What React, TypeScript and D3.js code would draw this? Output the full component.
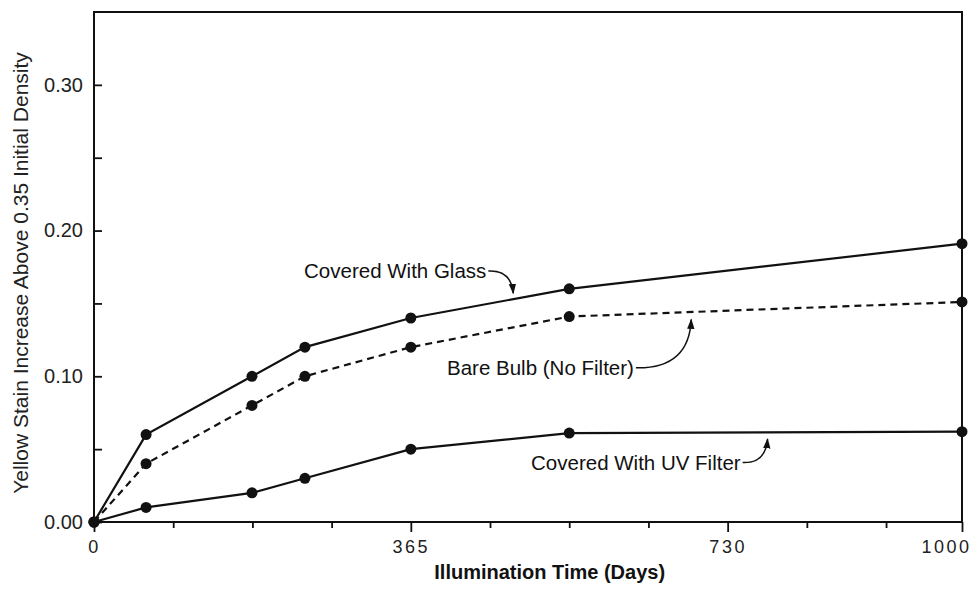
import * as d3 from "d3";
import { useEffect, useRef } from "react";

// illumination time in days for each measurement
const days = [0, 60, 182, 243, 365, 547.5, 1000];

const glassValues = [0, 0.06, 0.1, 0.12, 0.14, 0.16, 0.191];
const bareBulbValues = [0, 0.04, 0.08, 0.1, 0.12, 0.141, 0.151];
const uvFilterValues = [0, 0.01, 0.02, 0.03, 0.05, 0.061, 0.062];

const yTickValues = [0, 0.1, 0.2, 0.3];
const yMinorTicks = [0.05, 0.15, 0.25];
const xTickValues = [0, 365, 730, 1000];
const xMinorTicks = [91.25, 182.5, 273.75, 456.25, 547.5, 638.75, 821.25, 912.5];

// labels: text end + arrow tip, in data units
const labels = [
  { text: "Covered With Glass", tx: 452, ty: 0.1675, ax: 483, ay: 0.157, up: false },
  { text: "Bare Bulb (No Filter)", tx: 622, ty: 0.101, ax: 688, ay: 0.139, up: true },
  { text: "Covered With UV Filter", tx: 745, ty: 0.036, ax: 776, ay: 0.057, up: true },
];

const W = 972;
const H = 592;
const FONT = "'Liberation Sans', Arial, Helvetica, sans-serif";

export default function App() {
  const ref = useRef<SVGSVGElement>(null);

  useEffect(() => {
    const svg = d3.select(ref.current);
    svg.selectAll("*").remove();

    const margin = { top: 12, right: 10, bottom: 70, left: 94 };
    const width = W - margin.left - margin.right;
    const height = H - margin.top - margin.bottom;

    const x = d3.scaleLinear().domain([0, 1000]).range([0, width]);
    const y = d3.scaleLinear().domain([0, 0.35]).range([height, 0]);

    svg
      .append("defs")
      .append("marker")
      .attr("id", "arrow")
      .attr("viewBox", "0 0 10 10")
      .attr("refX", 9)
      .attr("refY", 5)
      .attr("markerWidth", 7)
      .attr("markerHeight", 7)
      .attr("orient", "auto")
      .append("path")
      .attr("d", "M0,1.5 L10,5 L0,8.5 Z")
      .attr("fill", "#111");

    const g = svg
      .append("g")
      .attr("transform", `translate(${margin.left},${margin.top})`);

    // frame
    g.append("rect")
      .attr("width", width)
      .attr("height", height)
      .attr("fill", "none")
      .attr("stroke", "#111")
      .attr("stroke-width", 2);

    // y axis, ticks point inward
    const yAxis = g
      .append("g")
      .call(
        d3
          .axisLeft(y)
          .tickValues([...yTickValues, ...yMinorTicks])
          .tickSize(-8)
          .tickFormat((d) => (yTickValues.includes(+d) ? d3.format(".2f")(+d) : ""))
      );
    yAxis.select(".domain").remove();
    yAxis.selectAll("line").attr("stroke", "#111").attr("stroke-width", 1.8);
    yAxis
      .selectAll("text")
      .attr("font-family", FONT)
      .attr("font-size", 20)
      .attr("fill", "#222")
      .attr("x", -11);

    // x axis
    const xAxis = g
      .append("g")
      .attr("transform", `translate(0,${height})`)
      .call(
        d3
          .axisBottom(x)
          .tickValues([...xTickValues, ...xMinorTicks])
          .tickSize(6)
          .tickFormat((d) => (xTickValues.includes(+d) ? String(d) : ""))
      );
    xAxis.select(".domain").remove();
    xAxis.selectAll("line").attr("stroke", "#111").attr("stroke-width", 1.8);
    xAxis
      .selectAll<SVGLineElement, number>(".tick line")
      .filter((d) => xTickValues.includes(d))
      .attr("y2", 10);
    xAxis
      .selectAll("text")
      .attr("font-family", FONT)
      .attr("font-size", 18)
      .attr("letter-spacing", 2.5)
      .attr("fill", "#222")
      .attr("dy", null)
      .attr("y", 31);
    xAxis
      .selectAll<SVGTextElement, number>("text")
      .filter((d) => d === 1000)
      .attr("text-anchor", "end")
      .attr("x", 9);

    // axis titles
    g.append("text")
      .attr("x", x(525))
      .attr("y", height + 57)
      .attr("text-anchor", "middle")
      .attr("font-family", FONT)
      .attr("font-weight", "bold")
      .attr("font-size", 20)
      .attr("fill", "#111")
      .text("Illumination Time (Days)");

    g.append("text")
      .attr("transform", `translate(-66,${y(0.175) + 6}) rotate(-90)`)
      .attr("text-anchor", "middle")
      .attr("font-family", FONT)
      .attr("font-size", 21)
      .attr("fill", "#222")
      .text("Yellow Stain Increase Above 0.35 Initial Density");

    const series = [
      { values: glassValues, dash: null },
      { values: bareBulbValues, dash: "7 5" },
      { values: uvFilterValues, dash: null },
    ];

    const line = d3
      .line<[number, number]>()
      .x((d) => x(d[0]))
      .y((d) => y(d[1]));

    series.forEach((s) => {
      const pts = days.map((d, i) => [d, s.values[i]] as [number, number]);
      g.append("path")
        .datum(pts)
        .attr("d", line)
        .attr("fill", "none")
        .attr("stroke", "#111")
        .attr("stroke-width", 2.2)
        .attr("stroke-dasharray", s.dash);
      g.selectAll(null)
        .data(pts)
        .enter()
        .append("circle")
        .attr("cx", (d) => x(d[0]))
        .attr("cy", (d) => y(d[1]))
        .attr("r", 5.5)
        .attr("fill", "#111");
    });

    // annotations
    labels.forEach((l) => {
      const tx = x(l.tx);
      const ty = y(l.ty);
      g.append("text")
        .attr("x", tx)
        .attr("y", ty)
        .attr("text-anchor", "end")
        .attr("font-family", FONT)
        .attr("font-size", 20.5)
        .attr("fill", "#111")
        .text(l.text);
      const sx = tx + 2;
      const sy = ty - 7;
      const ex = x(l.ax);
      const ey = y(l.ay);
      const cx = ex - 2;
      const cy = l.up ? sy + 1 : sy - 1;
      g.append("path")
        .attr("d", `M${sx},${sy} Q${cx},${cy} ${ex},${ey}`)
        .attr("fill", "none")
        .attr("stroke", "#111")
        .attr("stroke-width", 1.5)
        .attr("marker-end", "url(#arrow)");
    });
  }, []);

  return (
    <svg
      ref={ref}
      width={W}
      height={H}
      style={{ position: "absolute", left: 0, top: 0, background: "#fff" }}
    />
  );
}
